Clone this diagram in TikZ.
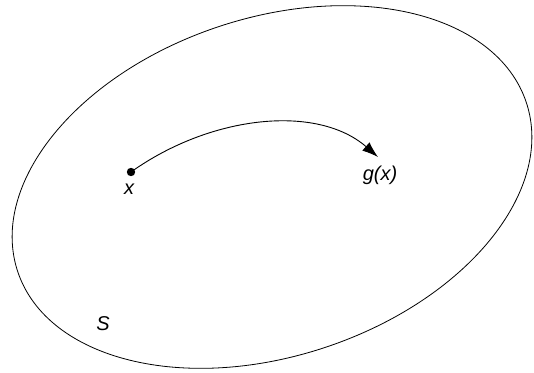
\documentclass[tikz,border=0pt]{standalone}
\usepackage{fontspec}
\setmainfont{Liberation Sans}
\usetikzlibrary{arrows.meta}
\begin{document}
\begin{tikzpicture}[x=1pt,y=-1pt,
  outline/.style={draw=black,line width=0.8pt},
  lbl/.style={inner sep=0pt,font=\fontsize{20}{22}\selectfont\itshape},
  mapping/.style={line width=0.9pt,-{Latex[length=16pt,width=11pt]}}]
\useasboundingbox (0,0) rectangle (534,372);
\coordinate (c) at (272,187);
\draw[outline,rotate around={18.4:(c)}] (c) ellipse [x radius=268pt, y radius=169pt];
\fill (131,172) circle (4.2) coordinate (p);
\coordinate (q) at (378,157);
\draw[mapping] (p) .. controls (211,115) and (317,104) .. (q);
\node[lbl] (xl) at (129,189) {x};
\node[lbl] (gl) at (380,175) {g(x)};
\node[lbl] (sl) at (103,324) {S};
\end{tikzpicture}
\end{document}
